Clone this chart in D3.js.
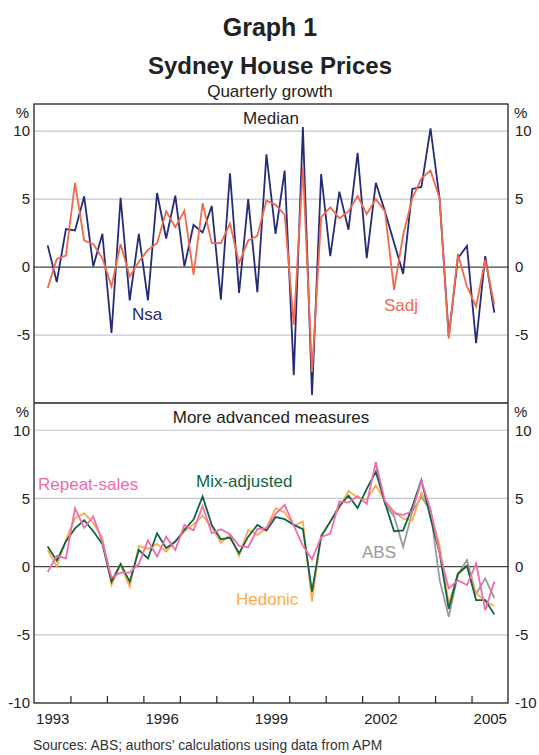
<!DOCTYPE html>
<html>
<head>
<meta charset="utf-8">
<script src="https://cdn.jsdelivr.net/npm/d3@7"></script>
<style>
  body { margin: 0; background: #fff; }
  svg { font-family: 'Liberation Sans', Arial, sans-serif; }
</style>
</head>
<body>
<svg width="539" height="755"></svg>
<script>
const startYear = 1993;
const startQuarter = 2;
const yearLabels = [1993, 1996, 1999, 2002, 2005];
const yearTicks = [1994, 1995, 1996, 1997, 1998, 1999, 2000, 2001, 2002, 2003, 2004, 2005];
const yTicksTop = [-5, 0, 5, 10];
const yTicksBottom = [-10, -5, 0, 5, 10];

// Median measures, quarterly % growth from 1993 Q2
const nsa = [1.6, -1.1, 2.8, 2.7, 5.2, 0.05, 2.45, -4.85, 5.1, -2.45,
  2.45, -2.45, 5.45, 2.1, 5.25, 0.05, 3.1, 2.55, 4.5, -2.4,
  6.9, -1.9, 5.0, -1.85, 8.3, 2.45, 7.1, -7.95, 10.3, -9.4,
  6.85, 0.8, 5.55, 2.75, 8.4, 0.65, 6.2, 4.1, 1.8, -0.5,
  5.75, 5.9, 10.2, 5.0, -5.1, 0.65, 1.55, -5.6, 0.8, -3.35];
const sadj = [-1.55, 0.6, 0.85, 6.2, 1.95, 1.7, 0.65, -1.42, 1.7, -0.7,
  0.4, 1.27, 1.76, 4.1, 2.94, 4.14, -0.56, 4.7, 1.76, 1.76,
  3.2, 0.3, 1.96, 2.3, 4.9, 4.58, 3.85, -4.24, 7.35, -7.72,
  3.68, 4.4, 3.6, 4.1, 5.24, 3.9, 5.0, 4.1, -1.67, 2.38,
  5.07, 6.54, 7.1, 5.07, -5.27, 0.96, -1.42, -2.9, 0.54, -2.77];

// More advanced measures
const mixAdjusted = [1.47, 0.44, 1.84, 2.8, 3.4, 2.6, 1.67, -1.1, 0.2, -1.1,
  1.22, 0.6, 2.45, 1.35, 1.84, 2.7, 3.45, 5.15, 3.06, 2.0,
  2.13, 0.98, 2.2, 3.06, 2.65, 3.63, 3.48, 3.06, 2.75, -1.84,
  2.2, 3.3, 4.45, 5.2, 4.3, 5.7, 6.95, 4.68, 2.6, 2.66,
  4.38, 6.35, 3.57, 1.0, -3.1, -0.5, 0.05, -2.46, -2.46, -3.5];
const hedonic = [1.22, 0.0, 1.96, 3.55, 3.9, 3.2, 2.1, -1.35, 0.12, -1.47,
  1.52, 1.3, 1.67, 1.1, 1.84, 2.57, 3.1, 3.73, 2.9, 1.76,
  2.33, 0.78, 2.7, 2.33, 2.82, 4.29, 3.97, 3.0, 3.3, -2.55,
  2.3, 3.3, 4.3, 5.54, 5.05, 4.93, 5.96, 4.8, 4.06, 3.5,
  3.4, 5.42, 4.06, 1.48, -2.7, -0.6, 0.07, -1.97, -2.5, -2.9];
const repeatSales = [-0.4, 0.8, 0.6, 4.28, 2.85, 3.68, 1.8, -0.8, -0.44, -0.44,
  0.2, 1.93, 0.74, 2.2, 1.22, 3.06, 2.65, 4.45, 2.45, 2.75,
  2.38, 1.52, 1.42, 2.75, 2.82, 3.87, 4.53, 3.0, 1.52, 0.54,
  2.18, 2.4, 4.78, 4.7, 5.17, 4.6, 7.68, 4.8, 3.9, 3.8,
  4.05, 6.3, 4.2, 1.0, -1.6, -1.0, -1.35, 0.25, -3.2, -1.1];
// ABS series shown from 2002 Q2 (index 36)
const absStart = 36;
const absSeries = [7.5, 4.6, 3.68, 1.45, 4.04, 5.1, 4.1, -0.98, -3.68, -0.61, 0.49, -2.0, -0.86, -2.3];

const quarterTime = i => startYear + (startQuarter - 1 + i + 0.5) / 4;

const svg = d3.select('svg');
const x = d3.scaleLinear().domain([1993, 2006]).range([34, 508]);
const [left, right] = x.range();

function drawPanel(top, bottom, ticks, title) {
  const y = d3.scaleLinear().domain([-10, 12]).range([bottom, top]);
  const g = svg.append('g');
  g.selectAll('.grid')
    .data(ticks.filter(t => t !== 0 && t !== -10))
    .enter().append('line')
    .attr('x1', left).attr('x2', right)
    .attr('y1', d => y(d)).attr('y2', d => y(d))
    .attr('stroke', '#c3c8cd')
    .attr('stroke-width', 1.2);
  g.append('line')
    .attr('x1', left).attr('x2', right)
    .attr('y1', y(0)).attr('y2', y(0))
    .attr('stroke', '#444')
    .attr('stroke-width', 1.2);

  const leftAxis = g.append('g')
    .attr('transform', `translate(${left - 4},0)`)
    .call(d3.axisLeft(y).tickValues(ticks).tickSize(0).tickPadding(0).tickFormat(d => String(d)));
  const rightAxis = g.append('g')
    .attr('transform', `translate(${right + 7},0)`)
    .call(d3.axisRight(y).tickValues(ticks).tickSize(0).tickPadding(0).tickFormat(d => String(d)));
  [leftAxis, rightAxis].forEach((a) => {
    a.select('.domain').remove();
    a.selectAll('text')
      .attr('font-size', 15)
      .attr('font-family', 'Liberation Sans, Arial, sans-serif')
      .attr('fill', '#222');
  });
  g.append('text')
    .attr('x', 29).attr('y', top + 14)
    .attr('text-anchor', 'end')
    .attr('font-size', 15).attr('fill', '#222')
    .text('%');
  g.append('text')
    .attr('x', 514).attr('y', top + 14)
    .attr('font-size', 15).attr('fill', '#222')
    .text('%');
  g.append('text')
    .attr('x', (left + right) / 2).attr('y', top + 20)
    .attr('text-anchor', 'middle')
    .attr('font-size', 17).attr('fill', '#222')
    .text(title);
  return y;
}

function drawSeries(y, values, color, offset = 0) {
  const line = d3.line()
    .x((d, i) => x(quarterTime(i + offset)))
    .y(d => y(d));
  svg.append('path')
    .datum(values)
    .attr('fill', 'none')
    .attr('stroke', color)
    .attr('stroke-width', 1.8)
    .attr('stroke-linejoin', 'miter')
    .attr('d', line);
}

function seriesLabel(px, py, text, color) {
  svg.append('text')
    .attr('x', px).attr('y', py)
    .attr('font-size', 17)
    .attr('fill', color)
    .text(text);
}

svg.append('text')
  .attr('x', 270).attr('y', 36)
  .attr('text-anchor', 'middle')
  .attr('font-size', 25).attr('font-weight', 'bold').attr('fill', '#222')
  .text('Graph 1');
svg.append('text')
  .attr('x', 270).attr('y', 74)
  .attr('text-anchor', 'middle')
  .attr('font-size', 24).attr('font-weight', 'bold').attr('fill', '#222')
  .text('Sydney House Prices');
svg.append('text')
  .attr('x', 270).attr('y', 97)
  .attr('text-anchor', 'middle')
  .attr('font-size', 17).attr('fill', '#222')
  .text('Quarterly growth');

const yTop = drawPanel(104, 403, yTicksTop, 'Median');
const yBottom = drawPanel(403, 703, yTicksBottom, 'More advanced measures');

drawSeries(yTop, nsa, '#262b78');
drawSeries(yTop, sadj, '#f26a4b');

drawSeries(yBottom, absSeries, '#9b9b9b', absStart);
drawSeries(yBottom, hedonic, '#fbab4e');
drawSeries(yBottom, mixAdjusted, '#0f6443');
drawSeries(yBottom, repeatSales, '#f06bb0');

seriesLabel(132, 320, 'Nsa', '#262b78');
seriesLabel(384, 311, 'Sadj', '#f26a4b');
seriesLabel(38, 490, 'Repeat-sales', '#f06bb0');
seriesLabel(196, 487, 'Mix-adjusted', '#0f6443');
seriesLabel(236, 605, 'Hedonic', '#fbab4e');
seriesLabel(362, 558, 'ABS', '#9b9b9b');

// frame and x axis
svg.append('rect')
  .attr('x', left).attr('y', 104)
  .attr('width', right - left).attr('height', 703 - 104)
  .attr('fill', 'none')
  .attr('stroke', '#222')
  .attr('stroke-width', 1.3);
svg.append('line')
  .attr('x1', left).attr('x2', right)
  .attr('y1', 403).attr('y2', 403)
  .attr('stroke', '#222')
  .attr('stroke-width', 1.3);

const tickAxis = svg.append('g')
  .attr('transform', 'translate(0,703)')
  .call(d3.axisBottom(x).tickValues(yearTicks).tickSize(-7).tickFormat(''));
tickAxis.select('.domain').remove();
tickAxis.selectAll('line').attr('stroke', '#222').attr('stroke-width', 1.2);

const labelAxis = svg.append('g')
  .attr('transform', 'translate(0,710)')
  .call(d3.axisBottom(x).tickValues(yearLabels.map(d => d + 0.5)).tickSize(0).tickFormat(d => Math.floor(d)));
labelAxis.select('.domain').remove();
labelAxis.selectAll('text')
  .attr('font-size', 15)
  .attr('font-family', 'Liberation Sans, Arial, sans-serif')
  .attr('fill', '#222');

svg.append('text')
  .attr('x', 33).attr('y', 750)
  .attr('font-size', 13.8).attr('fill', '#333')
  .text('Sources: ABS; authors\u2019 calculations using data from APM');
</script>
</body>
</html>
